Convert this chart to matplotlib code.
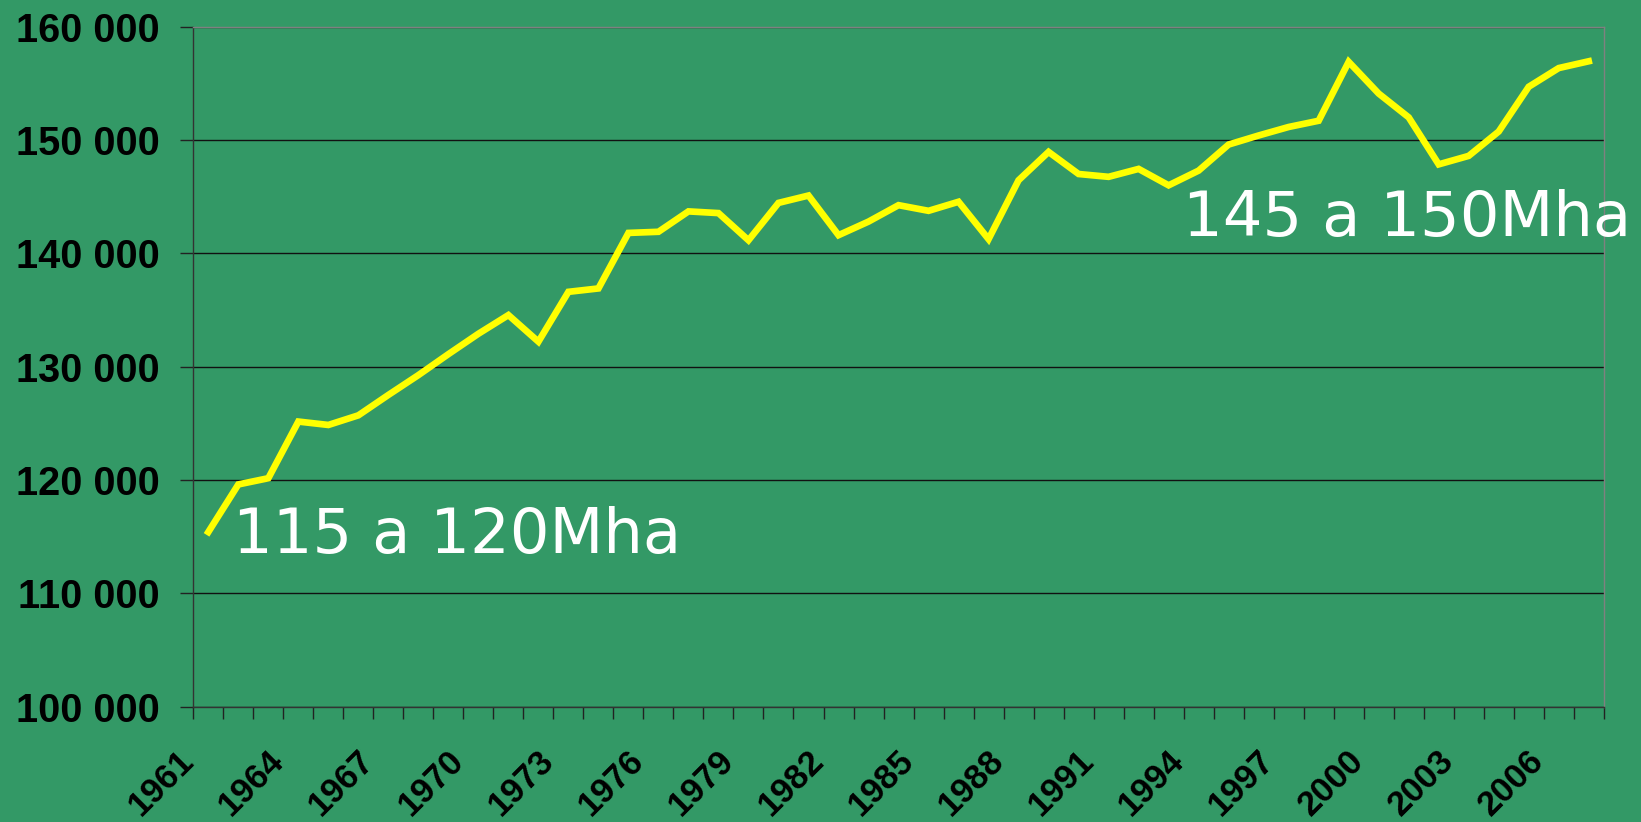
import matplotlib.pyplot as plt
import matplotlib.transforms as mtransforms
from matplotlib.ticker import FuncFormatter, FixedLocator

# Data (thousand ha)
years = list(range(1961, 2008))
area = [115400, 119600, 120150, 125150, 124850, 125700, 127500, 129250, 131100, 132900,
        134550, 132200, 136600, 136900, 141800, 141900, 143700, 143550, 141150, 144450,
        145100, 141600, 142800, 144250, 143750, 144550, 141250, 146450, 148950, 147000,
        146750, 147450, 146000, 147300, 149600, 150400, 151150, 151700, 156900, 154100,
        152000, 147850, 148600, 150750, 154700, 156350, 156950]
year_labels = [str(y) for y in years[::3]]

bg = '#339966'

fig = plt.figure(figsize=(16.41, 8.22), dpi=100, facecolor=bg)
ax = fig.add_axes([0.1178, 0.1405, 0.9773 - 0.1178, 0.9675 - 0.1405])
ax.set_facecolor(bg)

x = list(range(len(years)))
ax.plot(x, area, color='#FFFF00', lw=4.8, solid_joinstyle='miter', zorder=3)

ax.set_xlim(-0.5, len(years) - 0.5)
ax.set_ylim(100000, 160000)

# y axis
ax.set_yticks(range(100000, 160001, 10000))
ax.yaxis.set_major_formatter(FuncFormatter(lambda v, p: f"{v:,.0f}".replace(",", " ")))
ax.tick_params(axis='y', direction='out', length=9.4, width=1.0, color='#222222',
               pad=15, labelsize=28.5, labelcolor='black')
for lab in ax.get_yticklabels():
    lab.set_fontweight('bold')
    lab.set_family('Liberation Sans')
ax.grid(axis='y', color='#111111', lw=1.0, zorder=1)

# x axis: ticks between categories, labels every 3 years
ax.xaxis.set_major_locator(FixedLocator([i - 0.5 for i in range(len(years) + 1)]))
ax.xaxis.set_minor_locator(FixedLocator(x[::3]))
ax.set_xticklabels([], minor=False)
ax.set_xticklabels(year_labels, minor=True, rotation=45, ha='right', va='center',
                   rotation_mode='anchor', fontsize=25, fontweight='bold',
                   family='Liberation Sans')
ax.tick_params(axis='x', which='major', direction='out', length=8.6, width=1.0, color='#222222')
ax.tick_params(axis='x', which='minor', length=0, pad=0)
offset = mtransforms.ScaledTranslation(-20 / 100, -49 / 100, fig.dpi_scale_trans)
for lab in ax.get_xticklabels(minor=True):
    lab.set_transform(lab.get_transform() + offset)

for s in ['left', 'bottom']:
    ax.spines[s].set_color('#333333')
    ax.spines[s].set_linewidth(1.0)
for s in ['top', 'right']:
    ax.spines[s].set_color('#808080')
    ax.spines[s].set_linewidth(1.0)

# annotations
ax.text(0.0283, 0.226, '115 a 120Mha', transform=ax.transAxes, color='white',
        fontsize=45, family='DejaVu Sans', ha='left', va='baseline')
ax.text(0.702, 0.692, '145 a 150Mha', transform=ax.transAxes, color='white',
        fontsize=45, family='DejaVu Sans', ha='left', va='baseline', clip_on=False)

fig.savefig('out.png', dpi=100, facecolor=bg)
